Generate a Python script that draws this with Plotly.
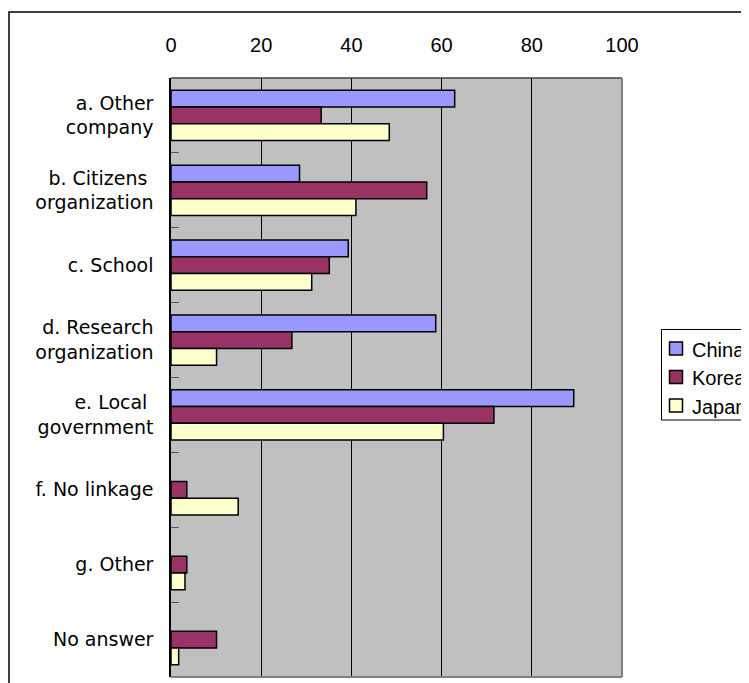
import plotly.graph_objects as go

categories = ["a. Other<br>company", "b. Citizens <br>organization", "c. School",
              "d. Research<br>organization", "e. Local <br>government",
              "f. No linkage", "g. Other", "No answer"]
china = [62.9, 28.5, 39.3, 58.7, 89.3, None, None, None]
korea = [33.3, 56.7, 35.1, 26.8, 71.6, 3.5, 3.5, 10.1]
japan = [48.4, 41.0, 31.2, 10.1, 60.4, 14.9, 3.1, 1.7]
x_ticks = [0, 20, 40, 60, 80, 100]

series = [("China", china, "#9999FF"), ("Korea", korea, "#993366"), ("Japan", japan, "#FFFFCC")]

fig = go.Figure()
for name, vals, col in series:
    fig.add_trace(go.Bar(
        y=categories, x=vals, name=name, orientation="h",
        marker=dict(color=col, line=dict(color="black", width=1.5)),
        showlegend=False,
    ))

# page offset of the figure (body margin) is 8px
OFF = 8
W, H = 749, 683
# plot area in page pixels: x 171..622, y 78..677
L = 171 - OFF
T = 78 - OFF
R = W - (622 - OFF)
B = H - (677 - OFF)
pw, ph = W - L - R, H - T - B

def px(x):
    return (x - OFF - L) / pw

def py(y):
    return (H - B - (y - OFF)) / ph

shapes = [
    dict(type="rect", xref="paper", yref="paper", x0=px(9), y0=py(12), x1=1.6, y1=-0.2,
         line=dict(color="black", width=1.5), layer="below"),
    dict(type="line", xref="paper", yref="paper", x0=0, x1=1, y0=1, y1=1,
         line=dict(color="#404040", width=1.5)),
    dict(type="line", xref="paper", yref="paper", x0=1, x1=1, y0=0, y1=1,
         line=dict(color="#808080", width=2)),
    dict(type="line", xref="paper", yref="paper", x0=0, x1=1, y0=0, y1=0,
         line=dict(color="#808080", width=2)),
    # legend box
    dict(type="rect", xref="paper", yref="paper", x0=px(661.5), y0=py(329.5), x1=px(800), y1=py(420),
         line=dict(color="black", width=1), fillcolor="white"),
]
annotations = []
leg_top = 348.5
leg_step = 28.5
for i, (name, vals, col) in enumerate(series):
    cy = leg_top + i * leg_step
    shapes.append(dict(type="rect", xref="paper", yref="paper",
                       x0=px(669.5), x1=px(682.5), y0=py(cy - 6.5), y1=py(cy + 6.5),
                       fillcolor=col, line=dict(color="black", width=1.5)))
    annotations.append(dict(text=name, xref="paper", yref="paper", x=px(690), y=py(cy + 1),
                            xanchor="left", yanchor="middle", showarrow=False,
                            font=dict(size=20, family="Liberation Sans, sans-serif", color="black")))

fig.update_layout(
    width=W, height=H,
    margin=dict(l=L, r=R, t=T, b=B, pad=0, autoexpand=False),
    paper_bgcolor="white", plot_bgcolor="#C0C0C0",
    barmode="group", bargap=0.33, bargroupgap=0,
    font=dict(family="DejaVu Sans, Liberation Sans, sans-serif", size=19, color="black"),
    showlegend=False,
    xaxis=dict(side="top", range=[0, 100], tickvals=x_ticks,
               showgrid=True, gridcolor="black", gridwidth=1,
               zeroline=False, showline=False,
               ticks="outside", ticklen=17, tickcolor="rgba(0,0,0,0)",
               tickfont=dict(family="Liberation Sans Narrow, Liberation Sans, sans-serif", size=20)),
    yaxis=dict(autorange="reversed", showgrid=False, zeroline=False,
               showline=True, linecolor="black", linewidth=1.5,
               ticks="inside", tickson="boundaries", ticklen=8, tickcolor="#555555",
               ticklabelstandoff=12,
               tickfont=dict(family="DejaVu Sans, sans-serif", size=19)),
    shapes=shapes,
    annotations=annotations,
)

fig.write_html("out.html")
